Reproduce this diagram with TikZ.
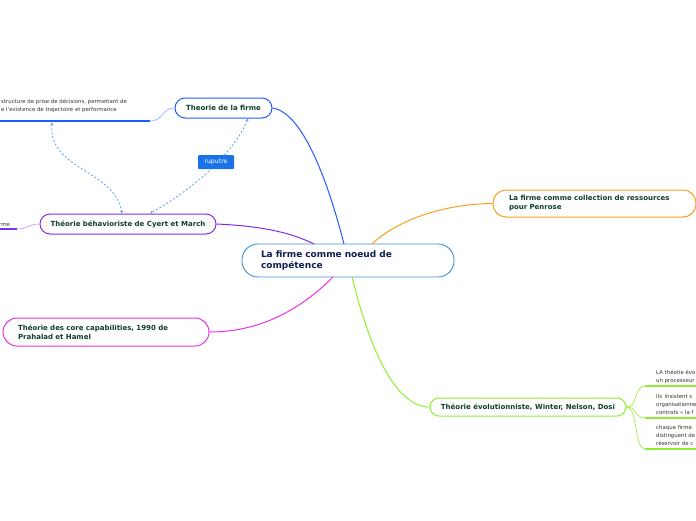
\documentclass[tikz,border=0pt]{standalone}
\usepackage{fontspec}
\setmainfont{DejaVu Sans}
\usetikzlibrary{arrows.meta}
\definecolor{cblue}{HTML}{1F5CFF}
\definecolor{cpurple}{HTML}{7B2DF0}
\definecolor{cmag}{HTML}{E830E8}
\definecolor{corange}{HTML}{F5A020}
\definecolor{cgreen}{HTML}{90EE30}
\definecolor{ccentral}{HTML}{3D8FD6}
\definecolor{cdash}{HTML}{5C9EF5}
\definecolor{clabel}{HTML}{1A74E8}
\definecolor{ntext}{HTML}{0F3D2E}
\definecolor{ctext}{HTML}{101F4F}
\definecolor{stext}{HTML}{333333}
\begin{document}
\begin{tikzpicture}[x=1pt,y=-1pt,
  topic/.style={draw, line width=1pt, fill=white, text=ntext, inner sep=0pt,
    font=\bfseries\fontsize{7}{9}\selectfont},
  small/.style={anchor=north west, inner sep=0pt, align=left, text=stext,
    font=\fontsize{5.4}{8}\selectfont},
  branch/.style={line width=1pt},
  uline/.style={line width=1.6pt},
  thin/.style={line width=0.6pt},
  dashlink/.style={cdash, line width=0.8pt, dash pattern=on 2pt off 2pt,
    {Stealth[length=3pt,width=3pt]}-{Stealth[length=3pt,width=3pt]}}
]
\useasboundingbox (0,0) rectangle (696,520);
\clip (0,0) rectangle (696,520);

% central
\node[draw=ccentral, line width=0.9pt, rounded corners=16pt, minimum width=212pt, minimum height=33pt,
  text=ctext, font=\bfseries\fontsize{9}{11}\selectfont, align=left, text width=174pt, inner sep=0pt]
  (center) at (348,260.5) {La firme comme noeud de\\compétence};

% topics
\node[topic, draw=cblue, rounded corners=10pt, minimum width=97pt, minimum height=20pt]
  (theorie) at (223.5,108) {Theorie de la firme};
\node[topic, draw=cpurple, rounded corners=10pt, minimum width=176pt, minimum height=20pt]
  (behav) at (128,224) {Théorie béhavioriste de Cyert et March};
\node[topic, draw=cmag, rounded corners=14pt, minimum width=206pt, minimum height=28pt,
  text width=176pt, align=left]
  (core) at (106,332) {Théorie des core capabilities, 1990 de\\Prahalad et Hamel};
\node[topic, draw=corange, rounded corners=13pt, minimum width=203pt, minimum height=27pt,
  text width=171pt, align=left]
  (penrose) at (594.5,203.5) {La firme comme collection de ressources\\pour Penrose};
\node[topic, draw=cgreen, rounded corners=9pt, minimum width=196pt, minimum height=18pt]
  (evol) at (528,407) {Théorie évolutionniste, Winter, Nelson, Dosi};

% branches from center
\coordinate (cb) at (344,244);
\coordinate (cp) at (314,244);
\coordinate (cm) at (333,277);
\coordinate (co) at (372,244);
\coordinate (cg) at (352,277);
\draw[branch, cblue] (theorie.east) .. controls (300,112) and (325,170) .. (cb);
\draw[branch, cpurple] (behav.east) .. controls (260,226) and (290,232) .. (cp);
\draw[branch, cmag] (core.east) .. controls (265,332) and (305,305) .. (cm);
\draw[branch, corange] (penrose.west) .. controls (440,204) and (395,222) .. (co);
\draw[branch, cgreen] (evol.west) .. controls (390,407) and (365,330) .. (cg);

% left small text (structure)
\node[small] (stru) at (1,98.5) {structure de prise de décisions, permettant de\\e l'existence de trajectoire et performance};
\coordinate (u1a) at (0,121);
\coordinate (u1b) at (150,121);
\draw[uline, cblue] (u1a) -- (u1b);
\draw[thin, cblue!50] (u1b) .. controls (163,121) and (162,108) .. (theorie.west);

% left small text (rme)
\node[small, anchor=base west] (rme) at (-1,226) {rme};
\coordinate (u2a) at (0,229);
\coordinate (u2b) at (17,229);
\draw[uline, cpurple] (u2a) -- (u2b);
\draw[thin, cpurple!50] (u2b) .. controls (28,229) and (28,224) .. (behav.west);

% right small texts
\node[small] (r1) at (656,369.5) {LA théorie évo\\un processeur};
\node[small] (r2) at (656,394.5) {Ils\, insistent s\\organisationne\\contrats « la f};
\node[small] (r3) at (656,425.5) {chaque firme\\distinguent de\\réservoir de c};
\coordinate (g1a) at (645,386); \coordinate (g1b) at (697,386);
\coordinate (g2a) at (645,418); \coordinate (g2b) at (697,418);
\coordinate (g3a) at (645,449); \coordinate (g3b) at (697,449);
\draw[uline, cgreen] (g1a) -- (g1b);
\draw[uline, cgreen] (g2a) -- (g2b);
\draw[uline, cgreen] (g3a) -- (g3b);
\draw[thin, cgreen] (evol.east) .. controls (638,407) and (634,386) .. (g1a);
\draw[thin, cgreen] (evol.east) .. controls (638,407) and (634,418) .. (g2a);
\draw[thin, cgreen] (evol.east) .. controls (638,407) and (634,449) .. (g3a);

% dashed relations
\coordinate (d1s) at (52,122.5);
\coordinate (d1e) at (122,213.5);
\coordinate (d2s) at (248,118.5);
\coordinate (d2e) at (150,213.5);
\draw[dashlink] (d1s) .. controls (48,170) and (115,170) .. (d1e);
\draw[dashlink] (d2s) .. controls (235,150) and (200,185) .. (d2e);
\node[fill=clabel, text=white, minimum width=36pt, minimum height=14pt, inner sep=0pt,
  rounded corners=1pt, font=\fontsize{6.2}{7}\selectfont] (rup) at (216,162) {ruputre};
\end{tikzpicture}
\end{document}
